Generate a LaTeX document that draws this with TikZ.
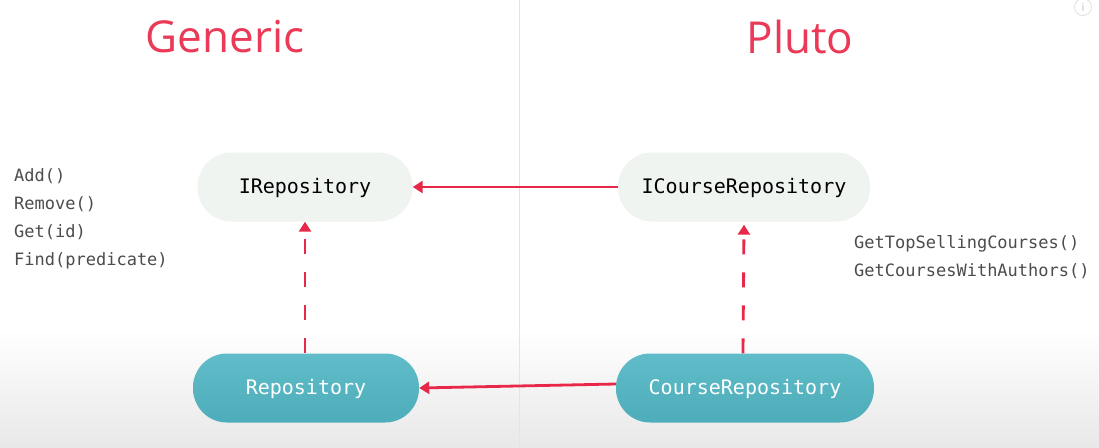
\documentclass[tikz,border=0pt]{standalone}
\usepackage{fontspec}
\setmainfont{Open Sans}
\newfontfamily\codefont{DejaVu Sans Mono}
\usetikzlibrary{arrows.meta}
\definecolor{accent}{RGB}{232,40,72}
\definecolor{titlered}{RGB}{234,58,88}
\definecolor{ifill}{RGB}{239,244,241}
\definecolor{teal}{RGB}{82,182,196}
\definecolor{divider}{RGB}{226,228,230}
\tikzset{
  ibox/.style={rounded corners=34pt, fill=ifill, minimum height=69pt, inner sep=0pt, text height=15pt, text depth=3pt, font=\codefont\fontsize{20}{24}\selectfont, text=black},
  cbox/.style={rounded corners=34pt, top color=teal!92!white, bottom color=teal!95!black, minimum height=69pt, inner sep=0pt, text height=15pt, text depth=3pt, font=\codefont\fontsize{20}{24}\selectfont, text=white},
  title/.style={font=\fontsize{44}{50}\selectfont, text=titlered},
  methods/.style={font=\codefont\fontsize{17}{28}\selectfont, text=black!70, align=left, anchor=north west, inner sep=0pt},
  rel/.style={draw=accent, line width=2.8pt, -{Triangle[width=12pt,length=10pt]}},
  dashrel/.style={rel, dash pattern=on 15pt off 18pt},
}
\begin{document}
\begin{tikzpicture}[x=1pt,y=-1pt]
\useasboundingbox (0,0) rectangle (1099,447);
\shade[top color=white, bottom color=black!9] (0,330) rectangle (1099,447);
\fill[white] (0,0) rectangle (1099,330);
\draw[divider, line width=1pt] (519,0) -- (519,447);
\node[draw=black!12, line width=0.8pt, circle, minimum size=17pt, inner sep=0pt, text=black!25, font=\fontsize{11}{11}\selectfont] (info) at (1083,7) {i};
\node[title] (tgen) at (225,37) {Generic};
\node[title] (tpluto) at (800,37) {Pluto};
\node[ibox, minimum width=215pt] (irepo) at (305,187) {IRepository};
\node[ibox, minimum width=252pt] (icrepo) at (744,187) {ICourseRepository};
\node[cbox, minimum width=226pt] (repo) at (306,388) {Repository};
\node[cbox, minimum width=258pt] (crepo) at (745,388) {CourseRepository};
\node[methods] (gm) at (14,168) {Add()\\Remove()\\Get(id)\\Find(predicate)};
\node[methods] (pm) at (854,235) {GetTopSellingCourses()\\GetCoursesWithAuthors()};
\draw[rel] (icrepo.west) -- (irepo.east);
\draw[rel] ([yshift=4pt]crepo.west) -- (repo.east);
\draw[dashrel] ([xshift=-1pt]repo.north) -- (irepo.south);
\draw[dashrel] ([xshift=-2pt]crepo.north) -- ([yshift=-3pt]icrepo.south);
\end{tikzpicture}
\end{document}
